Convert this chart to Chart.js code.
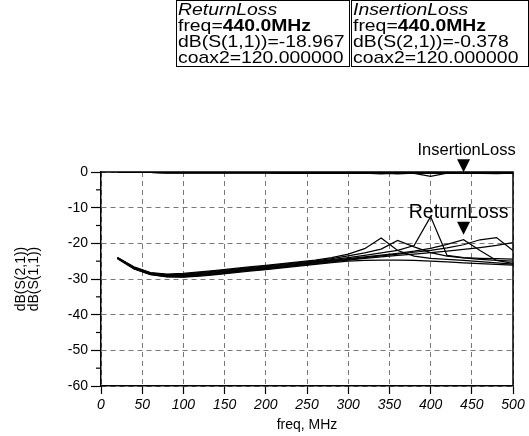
<!DOCTYPE html>
<html>
<head>
<meta charset="utf-8">
<script src="https://cdn.jsdelivr.net/npm/chart.js@4"></script>
<style>
  html, body { margin: 0; padding: 0; background: #fff; }
  #wrap { position: relative; width: 529px; height: 436px; overflow: hidden; }
  canvas { position: absolute; left: 0; top: 0; }
  .box { position: absolute; top: 0; height: 67px; border: 1.5px solid #000; background: #fff;
         font-family: "Liberation Sans", Arial, sans-serif; font-size: 17px; line-height: 16px;
         color: #000; padding: 1px 0 0 1px; box-sizing: border-box; white-space: nowrap; }
  .box div { transform: scaleX(1.14); transform-origin: 0 0; }
  .box i { font-style: italic; }
  .box b { font-weight: bold; }
</style>
</head>
<body>
<div id="wrap">
  <canvas id="c" width="529" height="436"></canvas>
  <div class="box" id="box1" style="left:176px; width:174px;"></div>
  <div class="box" id="box2" style="left:351px; width:178px;"></div>
</div>
<script>
// ---- data ----
const freq = [20,40,60,80,100,120,140,160,180,200,220,240,260,280,300,320,340,360,380,400,420,440,460,480,500];

// Return loss dB(S(1,1)) for a coax2 sweep
const rl1 = [-24.0,-26.6,-28.2,-28.6,-28.4,-28.0,-27.6,-27.1,-26.6,-26.2,-25.7,-25.2,-24.7,-24.0,-23.0,-21.5,-18.5,-22.0,-23.6,-24.2,-24.5,-24.8,-25.1,-25.5,-25.8];
const rl2 = [-24.0,-26.7,-28.3,-28.8,-28.6,-28.2,-27.8,-27.3,-26.8,-26.4,-25.9,-25.4,-24.9,-24.3,-23.5,-22.7,-21.6,-19.2,-21.0,-22.6,-23.6,-24.1,-24.5,-24.8,-25.0];
const rl3 = [-24.1,-26.8,-28.4,-28.9,-28.8,-28.4,-28.0,-27.5,-27.0,-26.6,-26.1,-25.6,-25.1,-24.6,-24.0,-23.4,-22.7,-22.0,-20.6,-12.5,-23.4,-24.0,-24.2,-24.3,-24.4];
const rl4 = [-24.1,-26.9,-28.5,-29.0,-29.0,-28.6,-28.2,-27.7,-27.2,-26.8,-26.3,-25.8,-25.3,-24.8,-24.3,-23.8,-23.3,-22.8,-22.2,-21.4,-20.3,-18.967,-22.0,-24.8,-25.6];
const rl5 = [-24.2,-27.0,-28.6,-29.2,-29.2,-28.8,-28.4,-27.9,-27.4,-27.0,-26.5,-26.0,-25.5,-25.0,-24.5,-24.0,-23.5,-23.0,-22.5,-22.0,-21.3,-20.4,-19.0,-18.4,-22.0];
const rl6 = [-24.2,-27.1,-28.7,-29.3,-29.4,-29.0,-28.6,-28.1,-27.6,-27.2,-26.7,-26.2,-25.7,-25.2,-24.7,-24.2,-23.8,-23.4,-23.0,-22.6,-22.2,-21.7,-21.2,-20.6,-19.8];
const rl7 = [-24.3,-27.2,-28.8,-29.4,-29.5,-29.2,-28.8,-28.3,-27.8,-27.4,-26.9,-26.4,-25.9,-25.4,-25.0,-24.8,-24.7,-24.7,-24.8,-25.0,-25.2,-25.5,-25.7,-25.9,-26.1];

// Insertion loss dB(S(2,1)) for the same sweep
const il1 = [-0.10,-0.12,-0.14,-0.15,-0.16,-0.17,-0.18,-0.19,-0.20,-0.21,-0.22,-0.23,-0.24,-0.25,-0.27,-0.30,-0.55,-0.30,-0.28,-0.28,-0.29,-0.30,-0.31,-0.32,-0.33];
const il2 = [-0.10,-0.12,-0.14,-0.15,-0.16,-0.17,-0.18,-0.19,-0.20,-0.21,-0.22,-0.23,-0.24,-0.25,-0.26,-0.28,-0.31,-0.50,-0.32,-0.29,-0.29,-0.30,-0.31,-0.32,-0.33];
const il3 = [-0.10,-0.12,-0.14,-0.15,-0.16,-0.17,-0.18,-0.19,-0.20,-0.21,-0.22,-0.23,-0.24,-0.25,-0.26,-0.27,-0.28,-0.30,-0.40,-1.20,-0.35,-0.30,-0.30,-0.31,-0.32];
const il4 = [-0.10,-0.12,-0.14,-0.15,-0.16,-0.17,-0.18,-0.19,-0.20,-0.21,-0.22,-0.23,-0.24,-0.25,-0.26,-0.27,-0.28,-0.29,-0.30,-0.31,-0.33,-0.378,-0.32,-0.30,-0.31];
const il5 = [-0.10,-0.12,-0.14,-0.15,-0.16,-0.17,-0.18,-0.19,-0.20,-0.21,-0.22,-0.23,-0.24,-0.25,-0.26,-0.27,-0.28,-0.29,-0.30,-0.31,-0.32,-0.34,-0.38,-0.45,-0.35];
const il6 = [-0.10,-0.12,-0.14,-0.15,-0.16,-0.17,-0.18,-0.19,-0.20,-0.21,-0.22,-0.23,-0.24,-0.25,-0.26,-0.27,-0.28,-0.29,-0.30,-0.31,-0.32,-0.33,-0.34,-0.36,-0.40];
const il7 = [-0.10,-0.12,-0.14,-0.15,-0.16,-0.17,-0.18,-0.19,-0.20,-0.21,-0.22,-0.23,-0.24,-0.25,-0.26,-0.27,-0.27,-0.28,-0.28,-0.29,-0.29,-0.30,-0.30,-0.31,-0.31];

const xTicks = [0,50,100,150,200,250,300,350,400,450,500];
const yTicks = [0,-10,-20,-30,-40,-50,-60];

// marker readouts
const markerFreq = 440;
const markerRL = -18.967;
const markerIL = -0.378;
const coax2 = 120;
const markerNames = ["ReturnLoss", "InsertionLoss"];

// ---- readout boxes ----
document.getElementById('box1').innerHTML =
  '<div><i>' + markerNames[0] + '</i></div><div>freq=<b>' + markerFreq.toFixed(1) + 'MHz</b></div><div>dB(S(1,1))=' +
  markerRL.toFixed(3) + '</div><div>coax2=' + coax2.toFixed(6) + '</div>';
document.getElementById('box2').innerHTML =
  '<div><i>' + markerNames[1] + '</i></div><div>freq=<b>' + markerFreq.toFixed(1) + 'MHz</b></div><div>dB(S(2,1))=' +
  markerIL.toFixed(3) + '</div><div>coax2=' + coax2.toFixed(6) + '</div>';

const FONT = "'Liberation Sans', Arial, sans-serif";
const mk = arr => arr.map((v, i) => ({x: freq[i], y: v}));
const series = [rl1, rl2, rl3, rl4, rl5, rl6, rl7, il1, il2, il3, il4, il5, il6, il7];
const datasets = series.map(s => ({
  data: mk(s), borderColor: '#000', borderWidth: 1.25, pointRadius: 0, tension: 0, fill: false
}));

const framePlugin = {
  id: 'frame',
  afterDatasetsDraw(chart) {
    const {ctx, chartArea: a, scales: {x, y}} = chart;
    ctx.save();
    ctx.strokeStyle = '#000';
    ctx.lineWidth = 1.5;
    ctx.beginPath();
    ctx.moveTo(a.left, a.top); ctx.lineTo(a.right, a.top); ctx.lineTo(a.right, a.bottom);
    ctx.stroke();
    // minor y ticks
    ctx.lineWidth = 1.2;
    for (let v = -5; v > -60; v -= 10) {
      const py = y.getPixelForValue(v);
      ctx.beginPath(); ctx.moveTo(a.left - 5, py); ctx.lineTo(a.left, py); ctx.stroke();
    }
    // markers
    const mx = x.getPixelForValue(markerFreq);
    const vals = [markerRL, markerIL];
    const fonts = ['19.5px ' + FONT, '16.5px ' + FONT];
    const dx = [-5, 3];
    const lift = [4, 0];
    ctx.fillStyle = '#000';
    ctx.textAlign = 'center';
    ctx.textBaseline = 'alphabetic';
    vals.forEach((v, i) => {
      const py = y.getPixelForValue(v) - lift[i];
      ctx.beginPath();
      ctx.moveTo(mx, py - 1);
      ctx.lineTo(mx - 6.5, py - 14);
      ctx.lineTo(mx + 6.5, py - 14);
      ctx.closePath();
      ctx.fill();
      ctx.font = fonts[i];
      ctx.fillText(markerNames[i], mx + dx[i], py - 18);
    });
    ctx.restore();
  }
};

new Chart(document.getElementById('c'), {
  type: 'line',
  data: { datasets },
  plugins: [framePlugin],
  options: {
    responsive: false,
    animation: false,
    events: [],
    layout: { padding: { left: 0, right: 16, top: 172, bottom: 0 } },
    plugins: { legend: { display: false }, tooltip: { enabled: false } },
    scales: {
      x: {
        type: 'linear', min: 0, max: 500,
        afterBuildTicks: s => { s.ticks = xTicks.map(v => ({value: v})); },
        afterFit: s => { s.height = 50; },
        ticks: { color: '#000', font: { family: FONT, size: 14, style: 'italic' }, padding: 3, maxRotation: 0 },
        grid: { color: '#777', lineWidth: 1, tickColor: '#000', tickLength: 8, tickWidth: 1.2 },
        border: { color: '#000', width: 1.5, dash: [5, 4] },
        title: { display: true, text: 'freq, MHz', color: '#000', font: { family: FONT, size: 14 }, padding: { top: 0, bottom: 2 } }
      },
      y: {
        type: 'linear', min: -60, max: 0,
        afterBuildTicks: s => { s.ticks = yTicks.map(v => ({value: v})); },
        afterFit: s => { s.width = 101; },
        ticks: { color: '#000', font: { family: FONT, size: 14 }, padding: 3 },
        grid: { color: '#777', lineWidth: 1, tickColor: '#000', tickLength: 10, tickWidth: 1.2 },
        border: { color: '#000', width: 1.5, dash: [5, 4] },
        title: { display: true, text: ['dB(S(2,1))', 'dB(S(1,1))'], color: '#000', font: { family: FONT, size: 14, lineHeight: 0.95 }, padding: { top: 14, bottom: 0 } }
      }
    }
  }
});
</script>
</body>
</html>
